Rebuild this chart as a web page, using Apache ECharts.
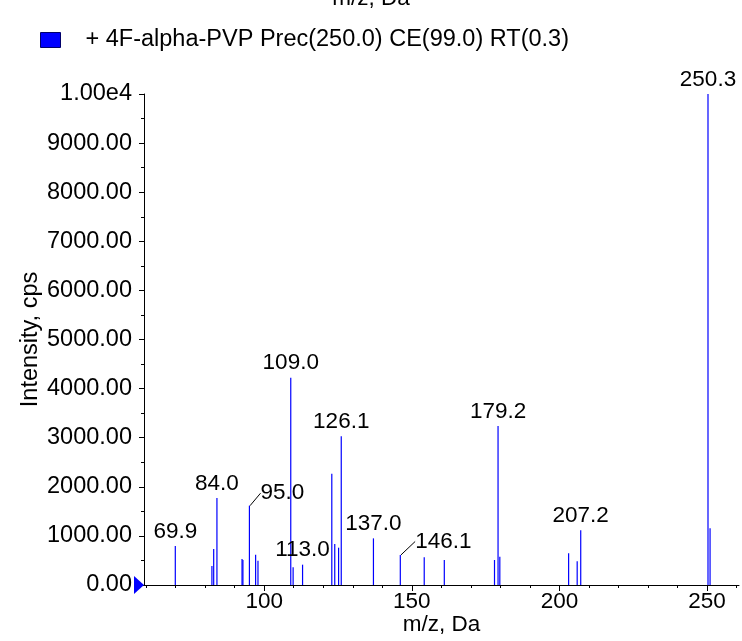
<!DOCTYPE html>
<html>
<head>
<meta charset="utf-8">
<script src="https://cdn.jsdelivr.net/npm/echarts@6/dist/echarts.min.js"></script>
<style>html,body{margin:0;padding:0;background:#fff}#c{width:742px;height:641px}</style>
</head>
<body>
<div id="c"></div>
<script>
// ---- data ----
const seriesName = '+ 4F-alpha-PVP Prec(250.0) CE(99.0) RT(0.3)';
const mz = [69.9, 82.3, 82.9, 84.0, 92.5, 92.8, 95.0, 97.1, 97.9, 109.0, 109.8, 113.0, 122.9, 123.9, 125.2, 126.1, 137.0, 146.1, 154.2, 161.0, 178.0, 179.2, 179.8, 203.1, 206.0, 207.2, 250.3, 251.0];
const intensity = [794, 387, 733, 1772, 530, 510, 1615, 617, 495, 4222, 360, 414, 2267, 835, 760, 3028, 950, 611, 563, 509, 509, 3238, 577, 645, 483, 1113, 10000, 1154];
const labelledPeaks = [69.9, 84.0, 95.0, 109.0, 113.0, 126.1, 137.0, 146.1, 179.2, 207.2, 250.3];
const leaderPeaks = [95.0, 146.1];
const xMajorTicks = [100, 150, 200, 250];
const xMinorTicks = [60, 70, 80, 90, 100, 110, 120, 130, 140, 150, 160, 170, 180, 190, 200, 210, 220, 230, 240, 250, 260];
const xRange = [59.3, 260.8];
const yRange = [0, 10000];
const yStep = 1000;
const xTitle = 'm/z, Da';
const yTitle = 'Intensity, cps';

const FONT = 'Liberation Sans, Arial, sans-serif';
const FS = 22.5;
const FSY = 23.5;
const chart = echarts.init(document.getElementById('c'), null, {renderer: 'canvas'});

const leaderOffsets = {95: [33, 2], 146.1: [43, 1]};

const data = mz.map((m, i) => {
  const item = {value: [m, intensity[i]]};
  if (labelledPeaks.includes(m)) {
    item.label = {show: true};
    if (leaderPeaks.includes(m)) {
      item.labelLine = {show: true, lineStyle: {color: '#000', width: 1}};
    }
  }
  return item;
});

const option = {
  animation: false,
  backgroundColor: '#fff',
  textStyle: {fontFamily: FONT},
  grid: {left: 144, right: 3, top: 94, bottom: 56, containLabel: false},
  legend: {
    show: true,
    left: 40, top: 28, padding: 0,
    icon: 'rect',
    itemWidth: 20, itemHeight: 15,
    itemStyle: {borderColor: '#00006a', borderWidth: 1},
    textStyle: {fontSize: FSY, color: '#000', fontFamily: FONT, padding: [0, 0, 0, 20]},
    data: [seriesName]
  },
  graphic: [{
    type: 'text', left: 'center', top: -13,
    style: {text: xTitle, fontSize: FS, fontFamily: FONT, fill: '#000'}
  }],
  xAxis: [{
    type: 'value', min: xRange[0], max: xRange[1],
    splitLine: {show: false},
    axisLine: {show: true, onZero: false, lineStyle: {color: '#000', width: 1}},
    axisTick: {show: true, inside: false, length: 3, customValues: xMinorTicks, lineStyle: {color: '#000'}},
    axisLabel: {show: true, customValues: xMajorTicks, fontSize: FS, color: '#000', margin: 5, fontFamily: FONT},
    name: xTitle, nameLocation: 'middle', nameGap: 28, nameMoveOverlap: false,
    nameTextStyle: {fontSize: FS, color: '#000', fontFamily: FONT}
  }, {
    type: 'value', min: xRange[0], max: xRange[1], position: 'bottom',
    splitLine: {show: false},
    axisLine: {show: false},
    axisTick: {show: true, inside: false, length: 6, customValues: xMajorTicks, lineStyle: {color: '#000'}},
    axisLabel: {show: false}
  }],
  yAxis: {
    type: 'value', min: yRange[0], max: yRange[1], interval: yStep,
    splitLine: {show: false},
    axisLine: {show: true, lineStyle: {color: '#000', width: 1}},
    axisTick: {show: true, length: 5, lineStyle: {color: '#000'}},
    minorTick: {show: true, splitNumber: 2, length: 3, lineStyle: {color: '#000'}},
    axisLabel: {
      fontSize: FSY, color: '#000', margin: 12, fontFamily: FONT,
      formatter: v => v === 10000 ? '1.00e4' : v.toFixed(2)
    },
    name: yTitle, nameLocation: 'middle', nameGap: 101, nameMoveOverlap: false,
    nameTextStyle: {fontSize: FSY, color: '#000', fontFamily: FONT}
  },
  series: [{
    name: seriesName,
    type: 'bar',
    xAxisIndex: 0,
    barWidth: 1.2,
    itemStyle: {color: '#0000ff'},
    label: {
      show: false, position: 'top', distance: 3,
      fontSize: FS, color: '#000', fontFamily: FONT,
      formatter: p => p.value[0].toFixed(1)
    },
    labelLayout: function (p) {
      const m = mz[p.dataIndex];
      const off = leaderOffsets[m];
      if (off) return {dx: off[0], dy: off[1]};
      return {};
    },
    markPoint: {
      silent: true,
      symbol: 'path://M0,0 L10,9 L0,18 Z',
      symbolSize: [10, 18],
      symbolOffset: [-5, 0],
      itemStyle: {color: '#0000ff'},
      label: {show: false},
      data: [{coord: [xRange[0], 0]}]
    },
    data: data
  }]
};
chart.setOption(option);
</script>
</body>
</html>
